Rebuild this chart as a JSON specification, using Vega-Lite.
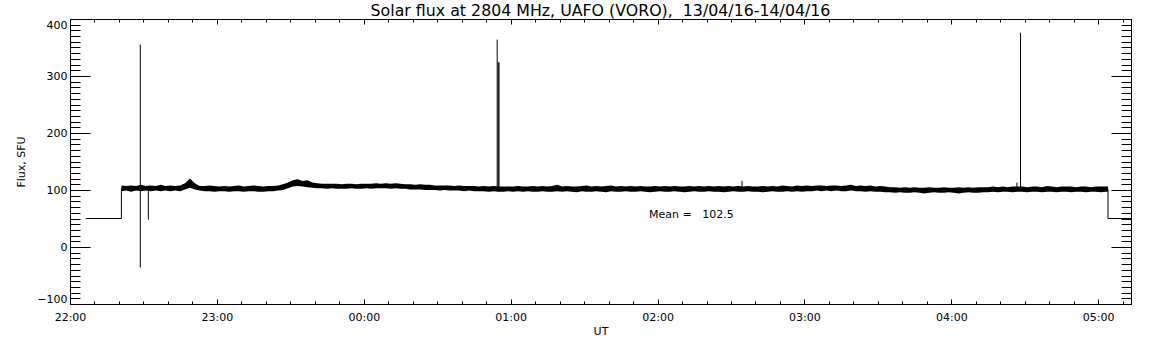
{
 "$schema": "https://vega.github.io/schema/vega-lite/v6.json",
 "width": 1061,
 "height": 285,
 "autosize": {"type": "none"},
 "padding": {"left": 70, "top": 19, "right": 21, "bottom": 41},
 "background": "white",
 "title": {"text": "Solar flux at 2804 MHz, UAFO (VORO),\u00a0 13/04/16-14/04/16", "font": "DejaVu Sans", "fontSize": 15.8, "fontWeight": "normal", "color": "black", "offset": -1},
 "config": {
  "view": {"stroke": "black", "strokeWidth": 1},
  "axis": {"grid": false, "domain": false, "tickColor": "black", "tickWidth": 1, "labelColor": "black", "titleColor": "black", "labelFont": "DejaVu Sans", "titleFont": "DejaVu Sans", "labelFontSize": 11, "titleFontSize": 11, "titleFontWeight": "normal"}
 },
 "layer": [
  {
   "data": {"values": [
    {"m": 21, "lo": 98, "hi": 108}, {"m": 23, "lo": 99, "hi": 107}, {"m": 25, "lo": 97, "hi": 108}, {"m": 27, "lo": 99, "hi": 107}, {"m": 29, "lo": 98, "hi": 109},
    {"m": 31, "lo": 99, "hi": 107}, {"m": 33, "lo": 98, "hi": 108}, {"m": 35, "lo": 99, "hi": 107}, {"m": 37, "lo": 98, "hi": 109}, {"m": 39, "lo": 99, "hi": 107},
    {"m": 41, "lo": 98, "hi": 108}, {"m": 43, "lo": 99, "hi": 107}, {"m": 45, "lo": 98, "hi": 108}, {"m": 47, "lo": 101, "hi": 112}, {"m": 49, "lo": 104, "hi": 120},
    {"m": 51, "lo": 101, "hi": 112}, {"m": 53, "lo": 99, "hi": 107}, {"m": 55, "lo": 98, "hi": 107}, {"m": 57, "lo": 98, "hi": 108}, {"m": 59, "lo": 97, "hi": 107},
    {"m": 61, "lo": 98, "hi": 106}, {"m": 63, "lo": 98, "hi": 107}, {"m": 65, "lo": 97, "hi": 106}, {"m": 67, "lo": 98, "hi": 107}, {"m": 69, "lo": 98, "hi": 108},
    {"m": 71, "lo": 97, "hi": 106}, {"m": 73, "lo": 98, "hi": 107}, {"m": 75, "lo": 98, "hi": 108}, {"m": 77, "lo": 97, "hi": 107}, {"m": 79, "lo": 97, "hi": 106},
    {"m": 81, "lo": 98, "hi": 107}, {"m": 83, "lo": 98, "hi": 107}, {"m": 85, "lo": 99, "hi": 108}, {"m": 87, "lo": 100, "hi": 110}, {"m": 89, "lo": 103, "hi": 113},
    {"m": 91, "lo": 106, "hi": 117}, {"m": 93, "lo": 107, "hi": 119}, {"m": 95, "lo": 106, "hi": 116}, {"m": 97, "lo": 105, "hi": 117}, {"m": 99, "lo": 104, "hi": 113},
    {"m": 101, "lo": 103, "hi": 112}, {"m": 103, "lo": 103, "hi": 111}, {"m": 105, "lo": 102, "hi": 111}, {"m": 107, "lo": 103, "hi": 111}, {"m": 109, "lo": 102, "hi": 111},
    {"m": 111, "lo": 102, "hi": 110}, {"m": 113, "lo": 102, "hi": 111}, {"m": 115, "lo": 103, "hi": 111}, {"m": 117, "lo": 102, "hi": 110}, {"m": 119, "lo": 102, "hi": 111},
    {"m": 121, "lo": 103, "hi": 111}, {"m": 123, "lo": 102, "hi": 111}, {"m": 125, "lo": 103, "hi": 112}, {"m": 127, "lo": 103, "hi": 111}, {"m": 129, "lo": 103, "hi": 112},
    {"m": 131, "lo": 102, "hi": 111}, {"m": 133, "lo": 103, "hi": 112}, {"m": 135, "lo": 102, "hi": 111}, {"m": 137, "lo": 102, "hi": 110}, {"m": 139, "lo": 101, "hi": 110},
    {"m": 141, "lo": 101, "hi": 109}, {"m": 143, "lo": 101, "hi": 110}, {"m": 145, "lo": 100, "hi": 109}, {"m": 147, "lo": 100, "hi": 109}, {"m": 149, "lo": 100, "hi": 108},
    {"m": 151, "lo": 99, "hi": 108}, {"m": 153, "lo": 100, "hi": 108}, {"m": 155, "lo": 99, "hi": 108}, {"m": 157, "lo": 99, "hi": 107}, {"m": 159, "lo": 99, "hi": 108},
    {"m": 161, "lo": 98, "hi": 107}, {"m": 163, "lo": 99, "hi": 107}, {"m": 165, "lo": 98, "hi": 107}, {"m": 167, "lo": 98, "hi": 106}, {"m": 169, "lo": 98, "hi": 107},
    {"m": 171, "lo": 97, "hi": 106}, {"m": 173, "lo": 98, "hi": 107}, {"m": 175, "lo": 97, "hi": 106}, {"m": 177, "lo": 97, "hi": 106}, {"m": 179, "lo": 98, "hi": 106},
    {"m": 181, "lo": 97, "hi": 106}, {"m": 183, "lo": 98, "hi": 107}, {"m": 185, "lo": 97, "hi": 106}, {"m": 187, "lo": 98, "hi": 106}, {"m": 189, "lo": 97, "hi": 107},
    {"m": 191, "lo": 97, "hi": 106}, {"m": 193, "lo": 98, "hi": 107}, {"m": 195, "lo": 97, "hi": 106}, {"m": 197, "lo": 97, "hi": 107}, {"m": 199, "lo": 98, "hi": 109},
    {"m": 201, "lo": 97, "hi": 106}, {"m": 203, "lo": 98, "hi": 107}, {"m": 205, "lo": 97, "hi": 106}, {"m": 207, "lo": 96, "hi": 106}, {"m": 209, "lo": 98, "hi": 107},
    {"m": 211, "lo": 97, "hi": 108}, {"m": 213, "lo": 97, "hi": 106}, {"m": 215, "lo": 98, "hi": 107}, {"m": 217, "lo": 97, "hi": 106}, {"m": 219, "lo": 96, "hi": 107},
    {"m": 221, "lo": 98, "hi": 108}, {"m": 223, "lo": 97, "hi": 106}, {"m": 225, "lo": 97, "hi": 107}, {"m": 227, "lo": 98, "hi": 106}, {"m": 229, "lo": 97, "hi": 107},
    {"m": 231, "lo": 97, "hi": 106}, {"m": 233, "lo": 98, "hi": 107}, {"m": 235, "lo": 97, "hi": 106}, {"m": 237, "lo": 96, "hi": 106}, {"m": 239, "lo": 97, "hi": 107},
    {"m": 241, "lo": 98, "hi": 106}, {"m": 243, "lo": 97, "hi": 107}, {"m": 245, "lo": 97, "hi": 106}, {"m": 247, "lo": 98, "hi": 107}, {"m": 249, "lo": 97, "hi": 106},
    {"m": 251, "lo": 96, "hi": 106}, {"m": 253, "lo": 97, "hi": 107}, {"m": 255, "lo": 98, "hi": 106}, {"m": 257, "lo": 97, "hi": 107}, {"m": 259, "lo": 97, "hi": 106},
    {"m": 261, "lo": 98, "hi": 107}, {"m": 263, "lo": 97, "hi": 106}, {"m": 265, "lo": 97, "hi": 107}, {"m": 267, "lo": 96, "hi": 106}, {"m": 269, "lo": 97, "hi": 107},
    {"m": 271, "lo": 98, "hi": 106}, {"m": 273, "lo": 97, "hi": 107}, {"m": 275, "lo": 97, "hi": 106}, {"m": 277, "lo": 98, "hi": 107}, {"m": 279, "lo": 97, "hi": 106},
    {"m": 281, "lo": 97, "hi": 106}, {"m": 283, "lo": 96, "hi": 107}, {"m": 285, "lo": 97, "hi": 106}, {"m": 287, "lo": 98, "hi": 107}, {"m": 289, "lo": 97, "hi": 106},
    {"m": 291, "lo": 97, "hi": 108}, {"m": 293, "lo": 98, "hi": 107}, {"m": 295, "lo": 97, "hi": 106}, {"m": 297, "lo": 98, "hi": 108}, {"m": 299, "lo": 97, "hi": 107},
    {"m": 301, "lo": 98, "hi": 108}, {"m": 303, "lo": 98, "hi": 107}, {"m": 305, "lo": 99, "hi": 108}, {"m": 307, "lo": 98, "hi": 108}, {"m": 309, "lo": 99, "hi": 107},
    {"m": 311, "lo": 98, "hi": 108}, {"m": 313, "lo": 99, "hi": 108}, {"m": 315, "lo": 98, "hi": 107}, {"m": 317, "lo": 98, "hi": 108}, {"m": 319, "lo": 99, "hi": 109},
    {"m": 321, "lo": 98, "hi": 107}, {"m": 323, "lo": 98, "hi": 108}, {"m": 325, "lo": 97, "hi": 107}, {"m": 327, "lo": 98, "hi": 108}, {"m": 329, "lo": 97, "hi": 106},
    {"m": 331, "lo": 97, "hi": 107}, {"m": 333, "lo": 96, "hi": 106}, {"m": 335, "lo": 96, "hi": 105}, {"m": 337, "lo": 95, "hi": 105}, {"m": 339, "lo": 96, "hi": 104},
    {"m": 341, "lo": 95, "hi": 105}, {"m": 343, "lo": 95, "hi": 104}, {"m": 345, "lo": 96, "hi": 105}, {"m": 347, "lo": 95, "hi": 104}, {"m": 349, "lo": 94, "hi": 104},
    {"m": 351, "lo": 95, "hi": 105}, {"m": 353, "lo": 96, "hi": 104}, {"m": 355, "lo": 95, "hi": 104}, {"m": 357, "lo": 95, "hi": 105}, {"m": 359, "lo": 96, "hi": 104},
    {"m": 361, "lo": 95, "hi": 104}, {"m": 363, "lo": 94, "hi": 105}, {"m": 365, "lo": 95, "hi": 104}, {"m": 367, "lo": 96, "hi": 105}, {"m": 369, "lo": 95, "hi": 104},
    {"m": 371, "lo": 95, "hi": 105}, {"m": 373, "lo": 96, "hi": 105}, {"m": 375, "lo": 96, "hi": 105}, {"m": 377, "lo": 97, "hi": 106}, {"m": 379, "lo": 96, "hi": 105},
    {"m": 381, "lo": 97, "hi": 106}, {"m": 383, "lo": 97, "hi": 105}, {"m": 385, "lo": 96, "hi": 106}, {"m": 387, "lo": 97, "hi": 106}, {"m": 389, "lo": 97, "hi": 106},
    {"m": 391, "lo": 96, "hi": 105}, {"m": 393, "lo": 97, "hi": 106}, {"m": 395, "lo": 97, "hi": 106}, {"m": 397, "lo": 96, "hi": 105}, {"m": 399, "lo": 97, "hi": 107},
    {"m": 401, "lo": 97, "hi": 106}, {"m": 403, "lo": 96, "hi": 105}, {"m": 405, "lo": 97, "hi": 106}, {"m": 407, "lo": 97, "hi": 106}, {"m": 409, "lo": 96, "hi": 106},
    {"m": 411, "lo": 97, "hi": 105}, {"m": 413, "lo": 97, "hi": 106}, {"m": 415, "lo": 96, "hi": 106}, {"m": 417, "lo": 97, "hi": 105}, {"m": 419, "lo": 97, "hi": 106},
    {"m": 421, "lo": 96, "hi": 106}, {"m": 423, "lo": 97, "hi": 106}, {"m": 424, "lo": 97, "hi": 106}
   ]},
   "mark": {"type": "area", "interpolate": "linear", "color": "black"},
   "encoding": {
    "x": {"field": "m", "type": "quantitative", "scale": {"domain": [0, 433.4], "nice": false, "zero": false},
     "axis": {"orient": "bottom", "values": [0, 60, 120, 180, 240, 300, 360, 420], "labelExpr": "pad((22 + datum.value / 60) % 24, 2, '0', 'left') + ':00'", "tickSize": -5, "labelPadding": 12, "labelFlush": false, "title": "UT", "titlePadding": 3}},
    "y": {"field": "lo", "type": "quantitative", "scale": {"domain": [-100, 400], "nice": false, "zero": false},
     "axis": {"orient": "left", "values": [-100, 0, 100, 200, 300, 400], "tickSize": -20, "labelPadding": 23, "labelFlush": true, "title": "Flux, SFU", "titlePadding": 10}},
    "y2": {"field": "hi"}
   }
  },
  {
   "data": {"values": [
    {"m": 6.42, "m2": 21, "v": 50, "v2": 50},
    {"m": 21, "m2": 21, "v": 50, "v2": 103},
    {"m": 424, "m2": 424, "v": 101, "v2": 50},
    {"m": 424, "m2": 433.4, "v": 50, "v2": 50}
   ]},
   "mark": {"type": "rule", "color": "black", "strokeWidth": 1},
   "encoding": {
    "x": {"field": "m", "type": "quantitative", "scale": {"domain": [0, 433.4], "nice": false, "zero": false},
     "axis": {"orient": "bottom", "values": [0, 10, 20, 30, 40, 50, 60, 70, 80, 90, 100, 110, 120, 130, 140, 150, 160, 170, 180, 190, 200, 210, 220, 230, 240, 250, 260, 270, 280, 290, 300, 310, 320, 330, 340, 350, 360, 370, 380, 390, 400, 410, 420, 430], "tickSize": -3, "labels": false, "title": null}},
    "x2": {"field": "m2"},
    "y": {"field": "v", "type": "quantitative", "scale": {"domain": [-100, 400], "nice": false, "zero": false},
     "axis": {"orient": "left", "values": [-100, -90, -80, -70, -60, -50, -40, -30, -20, -10, 0, 10, 20, 30, 40, 50, 60, 70, 80, 90, 100, 110, 120, 130, 140, 150, 160, 170, 180, 190, 200, 210, 220, 230, 240, 250, 260, 270, 280, 290, 300, 310, 320, 330, 340, 350, 360, 370, 380, 390, 400], "tickSize": -10, "labels": false, "title": null}},
    "y2": {"field": "v2"}
   }
  },
  {
   "data": {"values": [
    {"m": 28.72, "lo": -36, "hi": 355},
    {"m": 32, "lo": 48, "hi": 100},
    {"m": 174.5, "lo": 100, "hi": 364},
    {"m": 174.92, "lo": 100, "hi": 324},
    {"m": 175.25, "lo": 100, "hi": 324},
    {"m": 274.5, "lo": 100, "hi": 116},
    {"m": 386.8, "lo": 100, "hi": 113},
    {"m": 388.28, "lo": 100, "hi": 376}
   ]},
   "mark": {"type": "rule", "color": "black", "strokeWidth": 1},
   "encoding": {
    "x": {"field": "m", "type": "quantitative", "scale": {"domain": [0, 433.4], "nice": false, "zero": false},
     "axis": {"orient": "top", "values": [0, 60, 120, 180, 240, 300, 360, 420], "tickSize": -5, "labels": false, "title": null}},
    "y": {"field": "lo", "type": "quantitative", "scale": {"domain": [-100, 400], "nice": false, "zero": false},
     "axis": {"orient": "right", "values": [-100, 0, 100, 200, 300, 400], "tickSize": -20, "labels": false, "title": null}},
    "y2": {"field": "hi"}
   }
  },
  {
   "data": {"values": [
    {"m": 236.5, "v": 56.5, "label": "Mean =\u00a0\u00a0 102.5"}
   ]},
   "mark": {"type": "text", "align": "left", "baseline": "middle", "font": "DejaVu Sans", "fontSize": 11, "color": "black"},
   "encoding": {
    "x": {"field": "m", "type": "quantitative", "scale": {"domain": [0, 433.4], "nice": false, "zero": false},
     "axis": {"orient": "top", "values": [0, 10, 20, 30, 40, 50, 60, 70, 80, 90, 100, 110, 120, 130, 140, 150, 160, 170, 180, 190, 200, 210, 220, 230, 240, 250, 260, 270, 280, 290, 300, 310, 320, 330, 340, 350, 360, 370, 380, 390, 400, 410, 420, 430], "tickSize": -3, "labels": false, "title": null}},
    "y": {"field": "v", "type": "quantitative", "scale": {"domain": [-100, 400], "nice": false, "zero": false},
     "axis": {"orient": "right", "values": [-100, -90, -80, -70, -60, -50, -40, -30, -20, -10, 0, 10, 20, 30, 40, 50, 60, 70, 80, 90, 100, 110, 120, 130, 140, 150, 160, 170, 180, 190, 200, 210, 220, 230, 240, 250, 260, 270, 280, 290, 300, 310, 320, 330, 340, 350, 360, 370, 380, 390, 400], "tickSize": -10, "labels": false, "title": null}},
    "text": {"field": "label"}
   }
  }
 ],
 "resolve": {"axis": {"x": "independent", "y": "independent"}}
}
